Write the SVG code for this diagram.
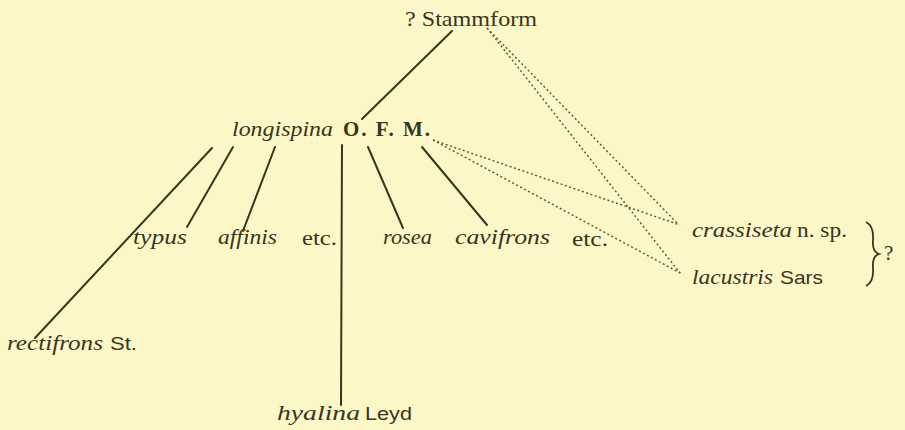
<svg xmlns="http://www.w3.org/2000/svg" width="905" height="430" viewBox="0 0 905 430">
<style>
.t{font-family:"Liberation Serif","DejaVu Serif",serif;fill:#3a3420;font-size:21px}
.i{font-style:italic}
.s{font-family:"Liberation Sans","DejaVu Sans",sans-serif;font-size:19px}
.solid{stroke:#3a3420;stroke-width:2;fill:none;stroke-linecap:round}
.dot{stroke:#57513a;stroke-width:1.4;fill:none;stroke-dasharray:2 2.5}
</style>
<rect x="0" y="0" width="905" height="430" fill="#FCF7C6"/>
<g id="connectors">
<line class="solid" x1="452" y1="31" x2="362" y2="119"/>
<line class="solid" x1="212" y1="148" x2="35" y2="338"/>
<line class="solid" x1="233" y1="147" x2="187" y2="227"/>
<line class="solid" x1="275" y1="147" x2="243" y2="231"/>
<line class="solid" x1="342" y1="145" x2="341" y2="405"/>
<line class="solid" x1="368" y1="147" x2="403" y2="228"/>
<line class="solid" x1="422" y1="147" x2="487" y2="225"/>
<line class="dot" x1="487" y1="28" x2="678" y2="224"/>
<line class="dot" x1="487" y1="28" x2="680" y2="273"/>
<line class="dot" x1="433" y1="140" x2="680" y2="225"/>
<line class="dot" x1="433" y1="140" x2="682" y2="274"/>
</g>
<g id="stammform"><text class="t" x="405" y="26" font-size="25" textLength="132" lengthAdjust="spacingAndGlyphs">? Stammform</text></g>
<g id="longispina"><text class="t i" x="232" y="136" textLength="101" lengthAdjust="spacingAndGlyphs">longispina</text><text class="t" x="343" y="136" font-weight="bold" textLength="87" lengthAdjust="spacing">O. F. M.</text></g>
<g id="typus"><text class="t i" x="133" y="244" textLength="54" lengthAdjust="spacingAndGlyphs">typus</text></g>
<g id="affinis"><text class="t i" x="218" y="244" textLength="59" lengthAdjust="spacingAndGlyphs">affinis</text></g>
<g id="etc1"><text class="t" x="302" y="245" textLength="35" lengthAdjust="spacingAndGlyphs">etc.</text></g>
<g id="rosea"><text class="t i" x="383" y="244" textLength="49" lengthAdjust="spacingAndGlyphs">rosea</text></g>
<g id="cavifrons"><text class="t i" x="455" y="244" textLength="95" lengthAdjust="spacingAndGlyphs">cavifrons</text></g>
<g id="etc2"><text class="t" x="572" y="246" textLength="36" lengthAdjust="spacingAndGlyphs">etc.</text></g>
<g id="crassiseta"><text class="t i" x="692" y="237" font-size="22" textLength="100" lengthAdjust="spacingAndGlyphs">crassiseta</text><text class="t" x="797" y="237" textLength="50" lengthAdjust="spacingAndGlyphs">n. sp.</text></g>
<g id="lacustris"><text class="t i" x="692" y="284" font-size="22" textLength="81" lengthAdjust="spacingAndGlyphs">lacustris</text><text class="t s" x="780" y="284" font-size="21" textLength="43" lengthAdjust="spacingAndGlyphs">Sars</text></g>
<g id="brace"><path d="M866,222 Q874,226 873,240 Q872,252 879,254 Q872,256 873,268 Q874,282 866,286" fill="none" stroke="#3a3420" stroke-width="1.8"/><text class="t" x="884" y="260" font-size="18">?</text></g>
<g id="rectifrons"><text class="t i" x="7" y="350" textLength="96" lengthAdjust="spacingAndGlyphs">rectifrons</text><text class="t s" x="110" y="350" textLength="27" lengthAdjust="spacingAndGlyphs">St.</text></g>
<g id="hyalina"><text class="t i" x="277" y="420" textLength="83" lengthAdjust="spacingAndGlyphs">hyalina</text><text class="t s" x="365" y="420" textLength="47" lengthAdjust="spacingAndGlyphs">Leyd</text></g>
</svg>
